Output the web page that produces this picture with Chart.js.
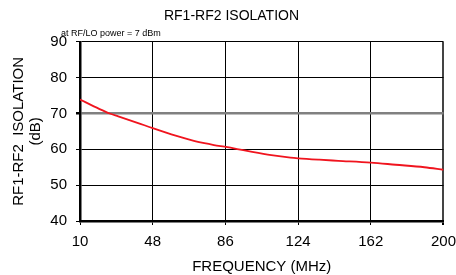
<!DOCTYPE html>
<html>
<head>
<meta charset="utf-8">
<script src="https://cdn.jsdelivr.net/npm/chart.js@4"></script>
<style>
html,body{margin:0;padding:0;background:#fff;}
#wrap{width:456px;height:275px;position:relative;}
</style>
</head>
<body>
<div id="wrap"><canvas id="c" width="456" height="275"></canvas></div>
<script>
const chartTitle = 'RF1-RF2 ISOLATION';
const noteText = 'at RF/LO power = 7 dBm';
const xTitle = 'FREQUENCY (MHz)';
const yTitle = ['RF1-RF2  ISOLATION', '(dB)'];
const xTicks = [10, 48, 86, 124, 162, 200];
const yTicks = [40, 50, 60, 70, 80, 90];
const freq = [10, 20, 25.5, 30, 40, 48, 60, 70, 75, 80, 87, 93, 100, 110, 120, 124, 135, 145, 162, 175, 190, 200];
const isolation = [73.9, 71.3, 70.0, 69.2, 67.4, 65.9, 63.8, 62.3, 61.7, 61.2, 60.6, 60.0, 59.3, 58.4, 57.7, 57.5, 57.1, 56.8, 56.3, 55.7, 55.0, 54.3];

const FONT = "'Liberation Sans', Arial, sans-serif";

const notePlugin = {
  id: 'note',
  afterDraw(chart) {
    const ctx = chart.ctx;
    ctx.save();
    ctx.font = '9px ' + FONT;
    ctx.fillStyle = '#000';
    ctx.textBaseline = 'middle';
    ctx.textAlign = 'left';
    ctx.fillText(noteText, 61, 34);
    ctx.restore();
  }
};

new Chart(document.getElementById('c'), {
  type: 'line',
  data: {
    datasets: [{
      data: freq.map((f, i) => ({x: f, y: isolation[i]})),
      borderColor: 'rgb(240,20,30)',
      borderWidth: 1.8,
      pointRadius: 0,
      tension: 0.4,
      cubicInterpolationMode: 'monotone',
      fill: false
    }]
  },
  options: {
    responsive: false,
    animation: false,
    devicePixelRatio: 1,
    layout: {padding: {left: 14, right: 7, top: 0, bottom: 0}},
    plugins: {
      legend: {display: false},
      tooltip: {enabled: false},
      title: {
        display: true,
        text: chartTitle,
        color: '#000',
        font: {family: FONT, size: 14, weight: 'normal', lineHeight: 1.2},
        padding: {top: 8, bottom: 17}
      }
    },
    scales: {
      x: {
        type: 'linear',
        min: xTicks[0],
        max: xTicks[xTicks.length - 1],
        afterBuildTicks: (s) => { s.ticks = xTicks.map(v => ({value: v})); },
        afterFit: (s) => { s.height = 54; },
        ticks: {
          color: '#000',
          font: {family: FONT, size: 15, lineHeight: 2.25},
          padding: 0,
          maxRotation: 0,
          autoSkip: false
        },
        grid: {
          drawTicks: true,
          tickLength: 4,
          tickColor: '#000',
          color: (c) => c.tick && c.tick.value === 200 ? '#444' : '#000',
          lineWidth: (c) => c.tick && c.tick.value === 200 ? 2 : 1
        },
        border: {display: true, color: '#000', width: 2.5},
        title: {
          display: true,
          text: xTitle,
          color: '#000',
          font: {family: FONT, size: 15, lineHeight: 1.15},
          padding: {top: 0, bottom: 0}
        }
      },
      y: {
        type: 'linear',
        min: yTicks[0],
        max: yTicks[yTicks.length - 1],
        afterBuildTicks: (s) => { s.ticks = yTicks.map(v => ({value: v})); },
        afterFit: (s) => { s.width = 66; },
        ticks: {
          color: '#000',
          font: {family: FONT, size: 15},
          padding: 9
        },
        grid: {
          drawTicks: true,
          tickLength: 4,
          tickColor: '#000',
          color: (c) => c.tick && c.tick.value === 70 ? '#808080' : '#000',
          lineWidth: (c) => c.tick && c.tick.value === 70 ? 2.5 : 1
        },
        border: {display: true, color: '#000', width: 2.5},
        title: {
          display: true,
          text: yTitle,
          color: '#000',
          font: {family: FONT, size: 15, lineHeight: 1.15},
          padding: {top: -3.6, bottom: 0}
        }
      }
    }
  },
  plugins: [notePlugin]
});
</script>
</body>
</html>
